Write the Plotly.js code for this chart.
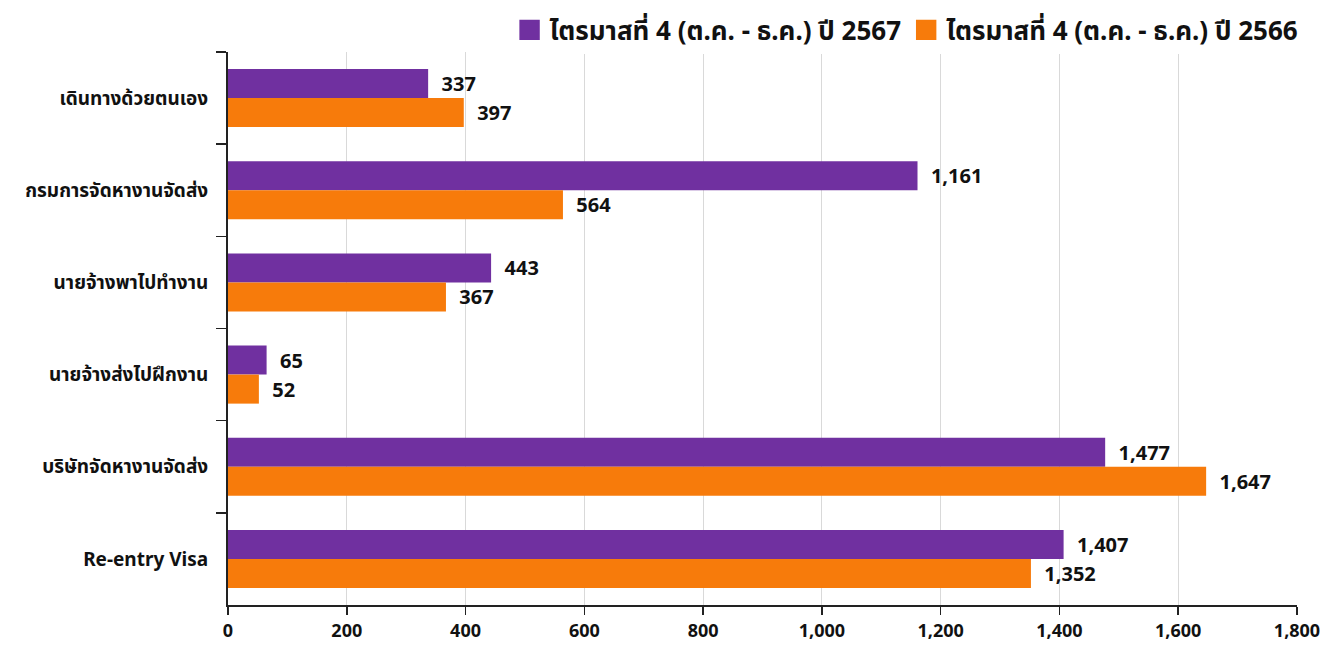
<!DOCTYPE html>
<html>
<head>
<meta charset="utf-8">
<script src="https://cdn.plot.ly/plotly-3.0.1.min.js"></script>
<style>html,body{margin:0;padding:0;background:#fff;}#chart{width:1337px;height:650px;}</style>
</head>
<body>
<div id="chart"></div>
<script>
const categories = ["เดินทางด้วยตนเอง", "กรมการจัดหางานจัดส่ง", "นายจ้างพาไปทำงาน", "นายจ้างส่งไปฝึกงาน", "บริษัทจัดหางานจัดส่ง", "Re-entry Visa"];
const series2567 = [337, 1161, 443, 65, 1477, 1407];
const series2566 = [397, 564, 367, 52, 1647, 1352];
const name2567 = "ไตรมาสที่ 4 (ต.ค. - ธ.ค.) ปี 2567";
const name2566 = "ไตรมาสที่ 4 (ต.ค. - ธ.ค.) ปี 2566";
const xTicks = [0, 200, 400, 600, 800, 1000, 1200, 1400, 1600, 1800];

const fontFam = "'Noto Sans', 'Noto Sans Thai', Lato, sans-serif";

const traces = [
  {type:'bar', orientation:'h', name:name2567, y:categories, x:series2567,
   marker:{color:'#7030A0'}, text:series2567, texttemplate:'  %{x:,}', textposition:'outside',
   textfont:{family:fontFam, size:20, color:'#111', weight:'bold'}, cliponaxis:false},
  {type:'bar', orientation:'h', name:name2566, y:categories, x:series2566,
   marker:{color:'#F77B0B'}, text:series2566, texttemplate:'  %{x:,}', textposition:'outside',
   textfont:{family:fontFam, size:20, color:'#111', weight:'bold'}, cliponaxis:false}
];

const layout = {
  width:1337, height:650,
  margin:{l:228, r:40, t:52, b:45, autoexpand:false},
  paper_bgcolor:'#fff', plot_bgcolor:'#fff',
  barmode:'group', bargap:0.37, bargroupgap:0,
  font:{family:fontFam, color:'#111'},
  showlegend:true,
  legend:{orientation:'h', xref:'container', yref:'container', x:0.975, xanchor:'right', y:0.99, yanchor:'top',
          font:{family:fontFam, size:26, color:'#111', weight:'bold'}, traceorder:'normal',
          itemwidth:30},
  xaxis:{range:[0,1800], tickvals:xTicks, tickformat:',', showgrid:true, gridcolor:'#d9d9d9', gridwidth:1,
         showline:true, linecolor:'#222', linewidth:2, ticks:'outside', ticklen:8, tickcolor:'#222', tickwidth:1.5,
         tickfont:{family:"'Liberation Sans Narrow', 'Noto Sans', sans-serif", size:18, color:'#111', weight:'bold'},
         zeroline:false, fixedrange:true},
  yaxis:{autorange:'reversed', type:'category', showline:true, linecolor:'#222', linewidth:2,
         ticks:'outside', tickson:'boundaries', ticklen:10, tickcolor:'#222', tickwidth:1.5,
         tickfont:{family:fontFam, size:19, color:'#111', weight:'bold'}, showgrid:false, ticklabelstandoff:14}
};

Plotly.newPlot('chart', traces, layout, {displayModeBar:false, staticPlot:true}).then(function(gd){
  // enlarge legend swatches to match reference squares
  gd.querySelectorAll('.legend .legendpoints path').forEach(function(p){
    const t = p.getAttribute('transform') || '';
    p.setAttribute('transform', t + ' scale(1.7)');
  });
});
</script>
</body>
</html>
